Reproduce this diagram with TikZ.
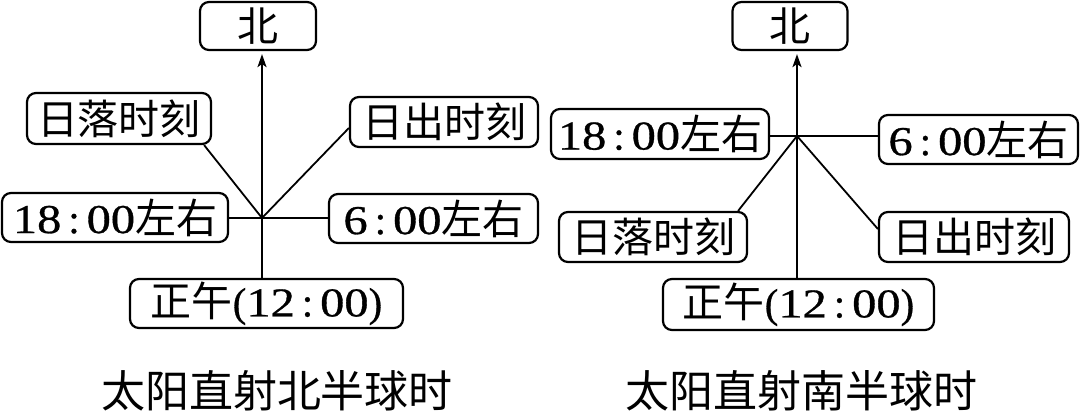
\documentclass[tikz,border=0pt]{standalone}
\usepackage{fontspec}
\usepackage{graphicx}
\setmainfont{Liberation Serif}[FakeBold=0.7]
\newfontfamily\cjk{Noto Sans CJK SC}
\usetikzlibrary{arrows.meta}
\newcommand\dg[1]{\scalebox{1.18}[1]{#1}}
\newcommand\cln{\kern7pt:\kern7pt}
\begin{document}
\begin{tikzpicture}[x=1pt,y=-1pt,
  box/.style={draw,line width=2.2pt,rounded corners=9pt,inner sep=0pt,
    font=\fontsize{41}{41}\selectfont},
  conn/.style={line width=1.8pt},
  arr/.style={line width=1.8pt,-{Stealth[length=13pt,width=9pt,inset=3pt]}},
  captext/.style={inner sep=0pt,font=\cjk\fontsize{44}{44}\selectfont}]
\useasboundingbox (0,0) rectangle (1080,412);
% ---------- left diagram ----------
\coordinate (cL) at (262,218);
\node[box,minimum width=116pt,minimum height=48pt] (nL) at (258,26) {\cjk 北};
\node[box,minimum width=184pt,minimum height=51pt] (setL) at (119,118.5) {\cjk 日落时刻};
\node[box,minimum width=188pt,minimum height=50pt] (riseL) at (444,122) {\cjk 日出时刻};
\node[box,minimum width=226pt,minimum height=49pt] (eveL) at (115,217.5) {\dg{18}\cln\dg{00}{\cjk 左右}};
\node[box,minimum width=209pt,minimum height=49pt] (mornL) at (433.5,218.5) {\dg{6}\cln\dg{00}{\cjk 左右}};
\node[box,minimum width=273pt,minimum height=49pt] (noonL) at (266.5,303.5) {{\cjk 正午}(\dg{12}\cln\dg{00})};
\draw[arr] (cL) -- ([yshift=-3pt]nL.south -| cL);
\draw[conn] (cL) -- (noonL.north -| cL);
\draw[conn] (cL) -- (eveL.east |- cL);
\draw[conn] (cL) -- (mornL.west |- cL);
\draw[conn] (cL) -- ([xshift=-8pt]setL.south east);
\draw[conn] (cL) -- ([yshift=-6pt]riseL.west);
\node[captext] (capL) at (277,391) {太阳直射北半球时};
% ---------- right diagram ----------
\coordinate (cR) at (797,136);
\node[box,minimum width=115pt,minimum height=48pt] (nR) at (790,26) {\cjk 北};
\node[box,minimum width=218pt,minimum height=50pt] (eveR) at (660,134) {\dg{18}\cln\dg{00}{\cjk 左右}};
\node[box,minimum width=199pt,minimum height=49pt] (mornR) at (978.5,139.5) {\dg{6}\cln\dg{00}{\cjk 左右}};
\node[box,minimum width=188pt,minimum height=50pt] (setR) at (653,237) {\cjk 日落时刻};
\node[box,minimum width=190pt,minimum height=50pt] (riseR) at (974,237) {\cjk 日出时刻};
\node[box,minimum width=271pt,minimum height=51pt] (noonR) at (798.5,304.5) {{\cjk 正午}(\dg{12}\cln\dg{00})};
\draw[arr] (cR) -- ([yshift=-3pt]nR.south -| cR);
\draw[conn] (cR) -- (noonR.north -| cR);
\draw[conn] (cR) -- (eveR.east |- cR);
\draw[conn] (cR) -- (mornR.west |- cR);
\draw[conn] (cR) -- ([xshift=-10pt]setR.north east);
\draw[conn] (cR) -- ([yshift=8pt]riseR.west);
\node[captext] (capR) at (801,391) {太阳直射南半球时};
\end{tikzpicture}
\end{document}
